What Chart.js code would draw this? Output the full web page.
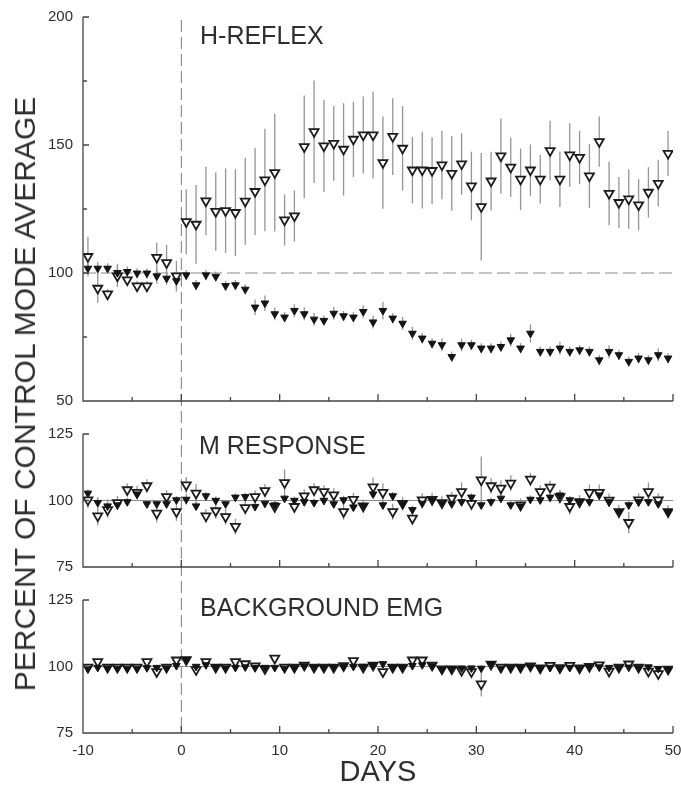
<!DOCTYPE html>
<html>
<head>
<meta charset="utf-8">
<script src="https://cdn.jsdelivr.net/npm/chart.js@4.4.1/dist/chart.umd.min.js"></script>
<style>
  html, body { margin: 0; padding: 0; background: #fff; }
  body { width: 681px; height: 789px; position: relative; overflow: hidden;
         font-family: "Liberation Sans", Arial, sans-serif; color: #2e2e2e; }
  .panel { position: absolute; left: 0; }
  .label { position: absolute; line-height: 1; white-space: nowrap; font-size: 25px; z-index: 2; }
  #ylabel { position: absolute; left: 25px; top: 394px; font-size: 30px; line-height: 1;
            white-space: nowrap; transform: translate(-50%, -50%) rotate(-90deg); z-index: 2; }
</style>
</head>
<body>
<div id="ylabel">PERCENT OF CONTROL MODE AVERAGE</div>
<div class="label" style="left:200px; top:23px;">H-REFLEX</div>
<div class="label" style="left:199px; top:433px;">M RESPONSE</div>
<div class="label" style="left:200px; top:595px;">BACKGROUND EMG</div>

<canvas id="hChart" class="panel" width="681" height="418" style="top:0px"></canvas>
<canvas id="mChart" class="panel" width="681" height="162" style="top:418px"></canvas>
<canvas id="bChart" class="panel" width="681" height="209" style="top:580px"></canvas>

<script>
// day of each session (markers sit between the day ticks)
const DAYS = [-9.5, -8.5, -7.5, -6.5, -5.5, -4.5, -3.5, -2.5, -1.5, -0.5,
  0.5, 1.5, 2.5, 3.5, 4.5, 5.5, 6.5, 7.5, 8.5, 9.5,
  10.5, 11.5, 12.5, 13.5, 14.5, 15.5, 16.5, 17.5, 18.5, 19.5,
  20.5, 21.5, 22.5, 23.5, 24.5, 25.5, 26.5, 27.5, 28.5, 29.5,
  30.5, 31.5, 32.5, 33.5, 34.5, 35.5, 36.5, 37.5, 38.5, 39.5,
  40.5, 41.5, 42.5, 43.5, 44.5, 45.5, 46.5, 47.5, 48.5, 49.5];

const X_TICK_LABELS = [-10, 0, 10, 20, 30, 40, 50];
const H_Y_LABELS = [50, 100, 150, 200];
const MB_Y_LABELS = [75, 100, 125];

// H-reflex: open = up-conditioned, filled = down-conditioned
const H_OPEN = [106.4, 94.0, 91.8, 98.8, 97.3, 94.9, 94.9, 106.1, 104.0, 98.8,
  120.0, 119.0, 128.1, 124.0, 124.3, 123.6, 128.0, 131.8, 136.3, 139.2,
  120.7, 122.3, 149.3, 155.2, 149.6, 150.6, 148.3, 152.2, 153.9, 153.9,
  143.1, 153.3, 148.7, 140.2, 140.2, 140.0, 142.2, 138.9, 142.6, 134.0,
  125.9, 135.9, 145.7, 141.3, 136.6, 140.2, 136.6, 147.8, 136.6, 146.1,
  145.1, 137.9, 151.3, 131.1, 127.5, 128.9, 126.6, 131.5, 135.0, 146.7];
const H_OPEN_ERR = [7.8, 5.6, 2.0, 4.3, 2.0, 2.0, 2.0, 5.7, 7.0, 6.0,
  12.7, 15.4, 13.4, 15.3, 16.5, 17.0, 17.0, 17.0, 20.0, 23.0,
  10.0, 10.0, 20.0, 20.0, 18.0, 14.6, 18.0, 14.7, 15.0, 17.0,
  18.0, 15.0, 16.5, 13.0, 15.0, 13.0, 13.4, 14.6, 12.0, 13.4,
  21.0, 11.5, 14.7, 11.6, 12.0, 10.0, 9.5, 11.7, 10.8, 12.4,
  10.4, 12.4, 9.8, 12.4, 10.0, 11.6, 10.0, 9.8, 9.0, 8.8];
const H_FILLED = [101.8, 101.8, 101.8, 100.1, 100.5, 99.9, 99.9, 98.8, 97.9, 96.9,
  99.2, 95.3, 99.2, 98.6, 95.0, 95.3, 93.6, 86.6, 88.2, 84.0,
  82.7, 85.3, 84.0, 81.9, 81.4, 84.2, 83.2, 82.7, 84.9, 80.8,
  85.3, 82.3, 80.3, 76.4, 74.5, 72.5, 71.9, 67.3, 71.9, 71.9,
  70.6, 70.6, 71.2, 73.8, 70.6, 76.4, 69.3, 69.3, 70.6, 69.3,
  69.9, 69.3, 66.0, 69.3, 68.0, 65.4, 66.7, 66.0, 68.0, 66.7];
const H_FILLED_ERR = [2.0, 2.5, 2.0, 3.5, 2.0, 2.0, 2.0, 3.0, 2.5, 3.0,
  2.0, 2.0, 2.0, 2.0, 2.0, 2.0, 2.0, 3.0, 3.0, 2.5,
  2.0, 2.5, 2.5, 2.5, 2.0, 2.5, 2.0, 2.0, 2.5, 2.5,
  3.5, 2.0, 2.5, 2.5, 2.0, 2.0, 2.5, 2.0, 2.5, 2.0,
  2.0, 2.0, 2.0, 2.5, 2.0, 3.5, 2.0, 2.0, 2.5, 2.0,
  2.0, 2.0, 2.0, 2.5, 2.0, 2.0, 2.0, 2.0, 2.5, 2.0];

// M response
const M_OPEN = [100.2, 94.2, 96.5, 99.2, 104.0, 103.0, 105.5, 95.2, 101.4, 95.8,
  105.8, 102.7, 94.2, 96.1, 93.9, 90.2, 97.3, 101.4, 103.7, 97.7,
  106.7, 97.7, 101.7, 104.0, 103.3, 102.1, 95.8, 100.4, 97.9, 105.1,
  103.0, 95.8, 98.9, 93.3, 100.2, 100.4, 99.2, 100.8, 103.3, 98.9,
  107.7, 105.5, 104.6, 106.5, 98.3, 108.0, 103.3, 105.0, 101.4, 97.7,
  99.5, 103.0, 103.0, 100.1, 95.8, 91.7, 100.2, 103.3, 100.2, 95.8];
const M_OPEN_ERR = [3.0, 3.5, 3.0, 2.5, 2.5, 2.5, 2.5, 3.5, 2.5, 3.5,
  3.0, 3.5, 2.5, 3.0, 3.0, 3.0, 2.5, 2.5, 2.5, 2.5,
  5.0, 2.5, 2.5, 2.5, 2.5, 2.5, 3.0, 2.5, 2.5, 3.5,
  3.5, 3.0, 2.5, 2.5, 2.5, 2.5, 2.5, 2.5, 3.5, 2.5,
  8.8, 3.0, 3.0, 3.0, 2.5, 2.5, 2.5, 2.5, 2.5, 3.0,
  2.5, 3.0, 3.0, 2.5, 2.5, 4.0, 2.5, 3.5, 2.5, 2.5];
const M_FILLED = [102.7, 99.2, 97.9, 98.3, 99.5, 102.4, 98.7, 98.7, 98.7, 100.2,
  100.4, 97.9, 101.7, 100.0, 98.7, 101.2, 101.4, 97.7, 98.9, 98.3,
  100.8, 100.0, 99.5, 99.2, 100.0, 98.7, 100.2, 97.5, 97.9, 102.4,
  98.3, 101.7, 98.7, 96.5, 98.9, 100.2, 98.9, 98.7, 99.5, 101.2,
  98.3, 99.5, 100.8, 98.3, 97.9, 100.4, 100.2, 101.2, 102.0, 100.2,
  99.5, 99.5, 102.0, 99.5, 95.8, 98.3, 99.5, 99.5, 98.7, 95.8];
const M_FILLED_ERR = [1.5, 2.0, 2.5, 1.5, 1.5, 1.5, 1.5, 1.5, 1.5, 1.5,
  2.0, 1.5, 1.5, 1.5, 1.5, 1.5, 1.5, 1.5, 1.5, 1.5,
  1.5, 1.5, 1.5, 1.5, 1.5, 1.5, 1.5, 1.5, 1.5, 1.5,
  1.5, 1.5, 1.5, 1.5, 2.0, 1.5, 1.5, 1.5, 1.5, 1.5,
  1.5, 1.5, 1.5, 1.5, 1.5, 1.5, 1.5, 1.5, 2.0, 1.5,
  1.5, 1.5, 2.0, 1.5, 1.5, 1.5, 1.5, 1.5, 1.5, 1.5];

// background EMG
const B_OPEN = [99.7, 101.8, 99.7, 99.7, 99.7, 99.7, 101.8, 98.0, 99.7, 102.4,
  102.5, 98.8, 101.8, 99.7, 99.7, 101.8, 101.0, 100.2, 99.2, 103.1,
  99.7, 99.7, 100.5, 99.7, 99.7, 99.7, 100.3, 102.2, 99.7, 100.5,
  98.0, 99.7, 99.7, 102.4, 102.4, 100.5, 99.1, 99.1, 98.5, 98.0,
  93.4, 100.8, 99.7, 99.7, 99.7, 100.2, 99.4, 100.4, 99.5, 100.4,
  99.4, 100.0, 100.6, 98.2, 99.7, 100.9, 99.7, 98.2, 97.3, 99.0];
const B_OPEN_ERR = [0.8, 0.8, 0.8, 0.8, 0.8, 0.8, 0.8, 1.0, 0.8, 0.8,
  0.8, 1.0, 0.8, 0.8, 0.8, 0.8, 0.8, 0.8, 0.8, 0.8,
  0.8, 0.8, 0.8, 0.8, 0.8, 0.8, 0.8, 0.8, 0.8, 0.8,
  1.0, 0.8, 0.8, 0.8, 0.8, 0.8, 0.8, 0.8, 0.8, 0.8,
  4.7, 0.8, 0.8, 0.8, 0.8, 0.8, 0.8, 0.8, 0.8, 0.8,
  0.8, 0.8, 0.8, 1.0, 0.8, 0.8, 0.8, 1.0, 1.0, 0.8];
const B_FILLED = [99.2, 99.6, 99.4, 99.3, 99.3, 99.3, 99.5, 99.6, 99.4, 100.3,
  102.6, 100.0, 100.6, 99.7, 99.4, 99.6, 99.8, 99.6, 99.6, 99.6,
  99.3, 99.5, 100.2, 99.6, 99.6, 99.8, 99.9, 100.0, 100.0, 100.5,
  101.0, 99.6, 99.6, 100.3, 100.6, 100.2, 98.8, 99.2, 99.4, 99.4,
  99.3, 101.0, 99.3, 99.5, 99.6, 100.0, 99.2, 99.6, 99.3, 99.6,
  99.3, 99.9, 99.8, 99.6, 99.5, 99.7, 99.5, 99.8, 99.2, 98.8];
const B_FILLED_ERR = [0.6, 0.6, 0.6, 0.6, 0.6, 0.6, 0.6, 0.6, 0.6, 0.6,
  0.6, 0.6, 0.6, 0.6, 0.6, 0.6, 0.6, 0.6, 0.6, 0.6,
  0.6, 0.6, 0.6, 0.6, 0.6, 0.6, 0.6, 0.6, 0.6, 0.6,
  0.6, 0.6, 0.6, 0.6, 0.6, 0.6, 0.6, 0.6, 0.6, 0.6,
  1.2, 0.6, 0.6, 0.6, 0.6, 0.6, 0.6, 0.6, 0.6, 0.6,
  0.6, 0.6, 0.6, 0.6, 0.6, 0.6, 0.6, 0.6, 0.6, 0.6];

Chart.defaults.font.family = '"Liberation Sans", Arial, sans-serif';
Chart.defaults.color = '#2e2e2e';

const toPoints = vals => vals.map((v, i) => ({ x: DAYS[i], y: v }));

// error bars, reference lines, axes with inward ticks
const framePlugin = {
    id: 'frame',
    beforeDatasetsDraw(chart, args, opts) {
        const { ctx, chartArea: a, scales: { x, y } } = chart;
        ctx.save();

        // vertical dashed line at day 0, phase kept continuous across panels
        const x0 = x.getPixelForValue(0);
        const top = opts.vStart === 'area' ? a.top + 3 : 0;
        const bottom = opts.vEnd === 'area' ? a.bottom : chart.height;
        ctx.strokeStyle = '#7a7a7a';
        ctx.lineWidth = 1;
        ctx.setLineDash([12, 5]);
        ctx.lineDashOffset = (opts.pageTop + top - 20) % 17;
        ctx.beginPath();
        ctx.moveTo(x0, top);
        ctx.lineTo(x0, bottom);
        ctx.stroke();

        // reference line at 100
        const y100 = y.getPixelForValue(100);
        ctx.strokeStyle = '#8a8a8a';
        ctx.setLineDash(opts.dashed100 ? [13, 5] : []);
        ctx.lineDashOffset = 0;
        ctx.beginPath();
        ctx.moveTo(a.left, y100);
        ctx.lineTo(a.right, y100);
        ctx.stroke();
        ctx.setLineDash([]);

        // error bars
        ctx.strokeStyle = '#959595';
        ctx.lineWidth = 1.3;
        chart.data.datasets.forEach(ds => {
            ds.data.forEach((p, i) => {
                const e = ds.errors[i];
                const px = x.getPixelForValue(p.x);
                ctx.beginPath();
                ctx.moveTo(px, y.getPixelForValue(p.y + e));
                ctx.lineTo(px, y.getPixelForValue(p.y - e));
                ctx.stroke();
            });
        });
        ctx.restore();
    },
    afterDraw(chart, args, opts) {
        const { ctx, chartArea: a, scales: { x, y } } = chart;
        ctx.save();
        ctx.strokeStyle = '#444';
        ctx.lineWidth = 1.3;
        ctx.beginPath();
        ctx.moveTo(a.left, a.top);
        ctx.lineTo(a.left, a.bottom);
        ctx.lineTo(a.right, a.bottom);
        y.ticks.forEach(t => {
            const py = y.getPixelForValue(t.value);
            const len = opts.yLabels.includes(t.value) ? 6 : 4;
            ctx.moveTo(a.left, py);
            ctx.lineTo(a.left + len, py);
        });
        x.ticks.forEach(t => {
            const px = x.getPixelForValue(t.value);
            const len = X_TICK_LABELS.includes(t.value) ? 7 : 4;
            ctx.moveTo(px, a.bottom);
            ctx.lineTo(px, a.bottom - len);
        });
        ctx.stroke();
        ctx.restore();
    }
};

function makePanel(canvasId, cfg) {
    const datasets = [
        {   // filled triangles on top
            data: toPoints(cfg.filled),
            errors: cfg.filledErr,
            pointStyle: 'triangle',
            rotation: 180,
            pointRadius: 4.4,
            backgroundColor: '#141414',
            borderColor: '#141414',
            borderWidth: 1
        },
        {
            data: toPoints(cfg.open),
            errors: cfg.openErr,
            pointStyle: 'triangle',
            rotation: 180,
            pointRadius: 5.2,
            backgroundColor: '#ffffff',
            borderColor: '#1c1c1c',
            borderWidth: 1.8
        }
    ];

    return new Chart(document.getElementById(canvasId), {
        type: 'scatter',
        data: { datasets },
        options: {
            responsive: false,
            animation: false,
            events: [],
            layout: { padding: { top: cfg.padTop, right: 8, bottom: 0, left: 0 } },
            plugins: {
                legend: { display: false },
                tooltip: { enabled: false },
                frame: {
                    pageTop: cfg.pageTop,
                    vStart: cfg.vStart,
                    vEnd: cfg.vEnd,
                    dashed100: cfg.dashed100,
                    yLabels: cfg.yLabels
                }
            },
            scales: {
                x: {
                    type: 'linear',
                    min: -10,
                    max: 50,
                    grid: { display: false, drawTicks: false },
                    border: { display: false },
                    ticks: {
                        display: cfg.showX,
                        stepSize: 5,
                        autoSkip: false,
                        maxRotation: 0,
                        padding: 9,
                        font: { size: 15 },
                        callback: v => X_TICK_LABELS.includes(v) ? String(v) : ''
                    },
                    title: {
                        display: cfg.showX,
                        text: 'DAYS',
                        padding: 0,
                        font: { size: 29, lineHeight: 1.1 }
                    },
                    afterFit(scale) {
                        scale.height = cfg.xHeight;
                        scale.paddingLeft = 0;
                        scale.paddingRight = 0;
                    }
                },
                y: {
                    min: cfg.yMin,
                    max: cfg.yMax,
                    grid: { display: false, drawTicks: false },
                    border: { display: false },
                    ticks: {
                        stepSize: 25,
                        padding: 10,
                        font: { size: 15 },
                        callback: v => cfg.yLabels.includes(v) ? String(v) : ''
                    },
                    afterFit(scale) {
                        scale.width = 83;
                        scale.paddingTop = 0;
                        scale.paddingBottom = 0;
                    }
                }
            }
        },
        plugins: [framePlugin]
    });
}

makePanel('hChart', {
    open: H_OPEN, openErr: H_OPEN_ERR, filled: H_FILLED, filledErr: H_FILLED_ERR,
    yMin: 50, yMax: 200, yLabels: H_Y_LABELS,
    padTop: 17, xHeight: 17, pageTop: 0, showX: false,
    vStart: 'area', vEnd: 'canvas', dashed100: true
});

makePanel('mChart', {
    open: M_OPEN, openErr: M_OPEN_ERR, filled: M_FILLED, filledErr: M_FILLED_ERR,
    yMin: 75, yMax: 125, yLabels: MB_Y_LABELS,
    padTop: 16, xHeight: 13, pageTop: 418, showX: false,
    vStart: 'canvas', vEnd: 'canvas', dashed100: false
});

makePanel('bChart', {
    open: B_OPEN, openErr: B_OPEN_ERR, filled: B_FILLED, filledErr: B_FILLED_ERR,
    yMin: 75, yMax: 125, yLabels: MB_Y_LABELS,
    padTop: 20, xHeight: 56, pageTop: 580, showX: true,
    vStart: 'canvas', vEnd: 'area', dashed100: false
});
</script>
</body>
</html>
